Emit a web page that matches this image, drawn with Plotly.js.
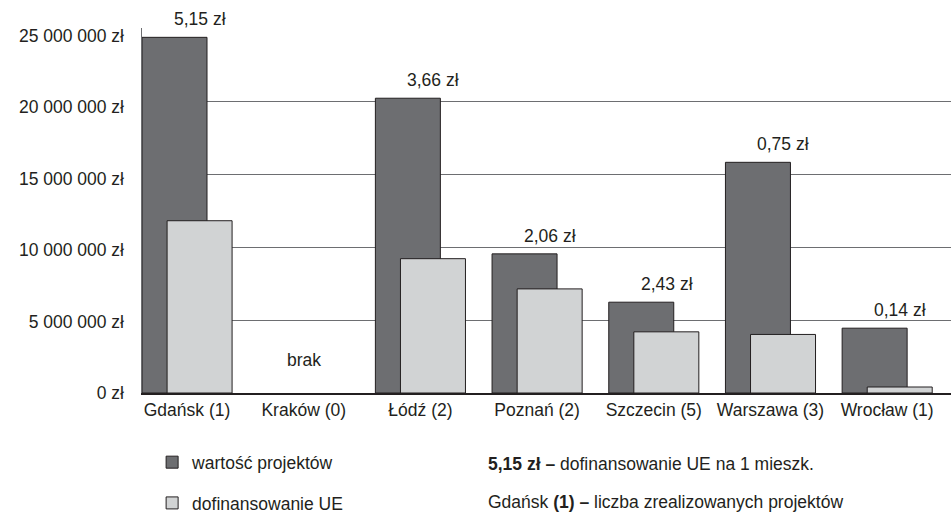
<!DOCTYPE html>
<html>
<head>
<meta charset="utf-8">
<script src="https://cdn.plot.ly/plotly-3.0.1.min.js"></script>
<style>html,body{margin:0;padding:0;background:#fff;}#chart{width:951px;height:512px;}</style>
</head>
<body>
<div id="chart"></div>
<script>
const categories = ['Gdańsk (1)', 'Kraków (0)', 'Łódź (2)', 'Poznań (2)', 'Szczecin (5)', 'Warszawa (3)', 'Wrocław (1)'];
const projectValue = [24360000, null, 20190000, 9530000, 6220000, 15800000, 4440000];
const euFunding = [11800000, null, 9200000, 7130000, 4190000, 4010000, 410000];
const perCapita = ['5,15 zł', 'brak', '3,66 zł', '2,06 zł', '2,43 zł', '0,75 zł', '0,14 zł'];
const seriesNames = ['wartość projektów', 'dofinansowanie UE'];
const yTicks = [0, 5000000, 10000000, 15000000, 20000000, 25000000];
const yTickLabels = ['0 zł', '5 000 000 zł', '10 000 000 zł', '15 000 000 zł', '20 000 000 zł', '25 000 000 zł'];

const FONT = 'Liberation Sans, Arial, sans-serif';
const TXT = '#231f20';
const FS = 17.5;

const traces = [
  {
    type: 'bar', x: categories, y: projectValue, name: seriesNames[0],
    offset: -0.386, width: 0.557, legendgroup: 'a',
    marker: {color: '#6d6e71', line: {color: '#231f20', width: 1}},
    hoverinfo: 'skip'
  },
  {
    type: 'bar', x: categories, y: euFunding, name: seriesNames[1],
    offset: -0.171, width: 0.557, legendgroup: 'b',
    marker: {color: '#d1d3d4', line: {color: '#231f20', width: 1}},
    hoverinfo: 'skip'
  },
  {
    type: 'scatter', mode: 'markers', x: [categories[0]], y: [0], yaxis: 'y2',
    marker: {opacity: 0, size: 1}, showlegend: false, hoverinfo: 'skip'
  }
];

const annotations = [];
categories.forEach((c, i) => {
  if (projectValue[i] === null) {
    annotations.push({x: c, y: 0, xref: 'x', yref: 'y', text: perCapita[i], showarrow: false,
      yanchor: 'bottom', yshift: 21, font: {family: FONT, size: FS, color: TXT}});
  } else {
    annotations.push({x: c, y: projectValue[i], xref: 'x', yref: 'y', text: perCapita[i], showarrow: false,
      xshift: 13, yanchor: 'bottom', yshift: 6, font: {family: FONT, size: FS, color: TXT}});
  }
});
annotations.push({xref: 'paper', yref: 'paper', x: 0.4252, y: -0.1947, xanchor: 'left', yanchor: 'middle',
  showarrow: false, text: '<b>5,15 zł –</b> dofinansowanie UE na 1 mieszk.', font: {family: FONT, size: FS, color: TXT}});
annotations.push({xref: 'paper', yref: 'paper', x: 0.4252, y: -0.2987, xanchor: 'left', yanchor: 'middle',
  showarrow: false, text: 'Gdańsk <b>(1) –</b> liczba zrealizowanych projektów', font: {family: FONT, size: FS, color: TXT}});

const layout = {
  width: 951, height: 512,
  margin: {l: 142, r: 0, t: 27.7, b: 118.7, pad: 0, autoexpand: false},
  paper_bgcolor: '#fff', plot_bgcolor: '#fff',
  barmode: 'overlay',
  font: {family: FONT, size: FS, color: TXT},
  showlegend: true,
  legend: {
    x: 0.0125, xanchor: 'left', y: -0.1405, yanchor: 'top',
    traceorder: 'grouped', tracegroupgap: 15,
    font: {family: FONT, size: FS, color: TXT},
    bgcolor: 'rgba(0,0,0,0)'
  },
  xaxis: {
    type: 'category', range: [-0.386, 6.547],
    showgrid: false, zeroline: false,
    showline: true, linecolor: '#231f20', linewidth: 1.5,
    ticks: '', tickfont: {family: FONT, size: FS, color: TXT}
  },
  yaxis: {
    range: [0, 25000000], tickmode: 'array', tickvals: yTicks,
    showticklabels: false,
    showgrid: true, gridcolor: '#6d6e71', gridwidth: 1,
    zeroline: false, showline: true, linecolor: '#6d6e71', linewidth: 1,
    ticks: ''
  },
  yaxis2: {
    overlaying: 'y', side: 'left', anchor: 'x',
    range: [0, 25545000], tickmode: 'array', tickvals: yTicks, ticktext: yTickLabels,
    showgrid: false, zeroline: false, showline: false,
    ticks: '', ticklabelstandoff: 17,
    tickfont: {family: FONT, size: FS, color: TXT}
  },
  annotations: annotations
};

Plotly.newPlot('chart', traces, layout, {displayModeBar: false, staticPlot: true});
</script>
</body>
</html>
